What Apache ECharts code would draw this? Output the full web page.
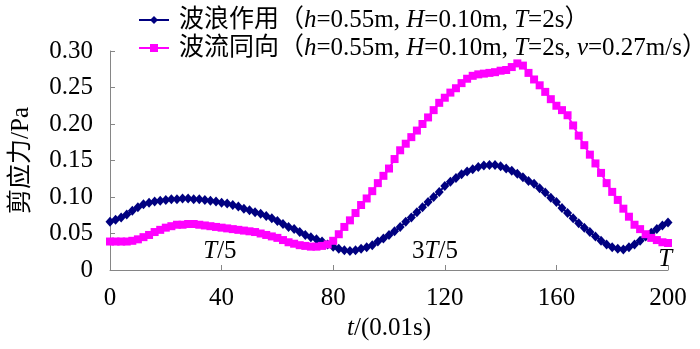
<!DOCTYPE html>
<html>
<head>
<meta charset="utf-8">
<script src="https://cdn.jsdelivr.net/npm/echarts@6/dist/echarts.min.js"></script>
<style>
html,body{margin:0;padding:0;background:#fff;}
#chart{width:700px;height:349px;}
</style>
</head>
<body>
<div id="chart"></div>
<script>
// time step of samples (0.01 s units)
var timeStep = 2;
// 波浪作用 shear stress (Pa), t = 0,2,...,200
var waveOnly = [
0.066,0.069,0.072,0.076,0.081,0.086,0.090,0.092,0.094,0.095,
0.096,0.097,0.097,0.098,0.098,0.097,0.097,0.096,0.095,0.094,
0.092,0.091,0.089,0.087,0.084,0.082,0.079,0.077,0.074,0.071,
0.067,0.063,0.059,0.056,0.052,0.048,0.045,0.042,0.039,0.035,
0.032,0.029,0.027,0.026,0.027,0.029,0.031,0.034,0.039,0.043,
0.048,0.053,0.059,0.066,0.072,0.079,0.086,0.093,0.100,0.107,
0.115,0.121,0.126,0.131,0.135,0.138,0.141,0.143,0.144,0.144,
0.142,0.139,0.136,0.132,0.127,0.122,0.118,0.112,0.106,0.099,
0.093,0.085,0.078,0.071,0.064,0.058,0.052,0.046,0.040,0.035,
0.031,0.029,0.028,0.031,0.035,0.040,0.046,0.051,0.056,0.061,
0.065
];
// 波流同向 shear stress (Pa), t = 0,2,...,200
var waveCurrent = [
0.039,0.039,0.039,0.039,0.040,0.042,0.045,0.048,0.052,0.055,
0.058,0.060,0.062,0.062,0.063,0.063,0.062,0.061,0.060,0.059,
0.058,0.057,0.056,0.055,0.054,0.053,0.052,0.050,0.048,0.046,
0.044,0.041,0.038,0.036,0.034,0.033,0.032,0.032,0.033,0.035,
0.040,0.049,0.059,0.068,0.078,0.089,0.098,0.108,0.119,0.129,
0.139,0.152,0.164,0.173,0.182,0.191,0.200,0.209,0.219,0.229,
0.236,0.243,0.249,0.256,0.262,0.266,0.268,0.269,0.270,0.271,
0.273,0.274,0.278,0.283,0.280,0.270,0.261,0.253,0.244,0.234,
0.225,0.219,0.212,0.198,0.184,0.171,0.158,0.146,0.133,0.119,
0.107,0.096,0.084,0.073,0.062,0.056,0.049,0.044,0.041,0.038,
0.037
];
var seriesNames = ['波浪作用', '波流同向'];
var legendTexts = [
  '{n|波浪作用（}{i|h}{n|=0.55m, }{i|H}{n|=0.10m, }{i|T}{n|=2s）}',
  '{n|波流同向（}{i|h}{n|=0.55m, }{i|H}{n|=0.10m, }{i|T}{n|=2s, }{i|v}{n|=0.27m/s）}'
];
var yTickLabels = ['0', '0.05', '0.10', '0.15', '0.20', '0.25', '0.30'];
var xTickLabels = ['0', '40', '80', '120', '160', '200'];
// phase annotations
var annotX = [39.4, 116.5, 199];
var annotY = [0.025, 0.025, 0.015];
var annotText = ['{i|T}{n|/5}', '{n|3}{i|T}{n|/5}', '{i|T}'];

var SERIF = '"Liberation Serif","Times New Roman","Noto Sans CJK SC",serif';
var FS = 25;

function pairs(vals) {
  var out = [];
  for (var i = 0; i < vals.length; i++) out.push([i * timeStep, vals[i]]);
  return out;
}
var annotData = [];
for (var k = 0; k < annotX.length; k++) annotData.push([annotX[k], annotY[k], annotText[k]]);

var richStyles = {
  n: {fontFamily: SERIF, fontSize: FS, color: '#000'},
  i: {fontFamily: SERIF, fontSize: FS, color: '#000', fontStyle: 'italic'}
};

var chart = echarts.init(document.getElementById('chart'), null, {renderer: 'canvas'});
chart.setOption({
  animation: false,
  backgroundColor: '#fff',
  grid: {left: 110, right: 32, top: 51, bottom: 79, containLabel: false, outerBoundsMode: 'none'},
  legend: {
    data: seriesNames,
    orient: 'vertical',
    left: 133,
    top: 1,
    itemGap: 0,
    itemWidth: 30,
    itemHeight: 10,
    formatter: function (name) { return legendTexts[seriesNames.indexOf(name)]; },
    textStyle: {fontFamily: SERIF, fontSize: FS, lineHeight: 28, color: '#000', padding: [0, 0, 0, 5], rich: richStyles}
  },
  xAxis: {
    type: 'value', min: 0, max: 200, interval: 40,
    name: '{i|t}{n|/(0.01s)}',
    nameLocation: 'middle', nameGap: 44,
    nameTextStyle: {rich: richStyles},
    axisLine: {show: true, lineStyle: {color: '#868686', width: 1}},
    axisTick: {show: true, inside: true, length: 5, lineStyle: {color: '#868686'}},
    axisLabel: {margin: 16, fontFamily: SERIF, fontSize: FS, color: '#000',
      formatter: function (v) { return xTickLabels[Math.round(v / 40)]; }},
    splitLine: {show: false}
  },
  yAxis: {
    type: 'value', min: 0, max: 0.3, interval: 0.05,
    name: '剪应力/Pa',
    nameLocation: 'middle', nameGap: 76, nameRotate: 90,
    nameTextStyle: {fontFamily: SERIF, fontSize: FS, color: '#000'},
    axisLine: {show: true, lineStyle: {color: '#868686', width: 1}},
    axisTick: {show: true, inside: true, length: 5, lineStyle: {color: '#868686'}},
    axisLabel: {margin: 17, fontFamily: SERIF, fontSize: FS, color: '#000',
      formatter: function (v) { return yTickLabels[Math.round(v / 0.05)]; }},
    splitLine: {show: false}
  },
  series: [
    {
      name: seriesNames[0], type: 'line', data: pairs(waveOnly),
      symbol: 'diamond', symbolSize: [9, 10], showAllSymbol: true,
      itemStyle: {color: '#000080'},
      lineStyle: {color: '#000080', width: 2},
      z: 2
    },
    {
      name: seriesNames[1], type: 'line', data: pairs(waveCurrent),
      symbol: 'rect', symbolSize: 8, showAllSymbol: true,
      itemStyle: {color: '#FF00FF'},
      lineStyle: {color: '#FF00FF', width: 2},
      z: 3
    },
    {
      name: 'annot', type: 'scatter', data: annotData,
      symbolSize: 0, silent: true,
      itemStyle: {color: '#000', opacity: 1},
      label: {show: true, position: 'inside', color: '#000',
        textBorderWidth: 0, textBorderColor: 'transparent', opacity: 1,
        formatter: function (p) { return p.data[2]; },
        rich: richStyles},
      z: 5
    }
  ]
});
</script>
</body>
</html>
